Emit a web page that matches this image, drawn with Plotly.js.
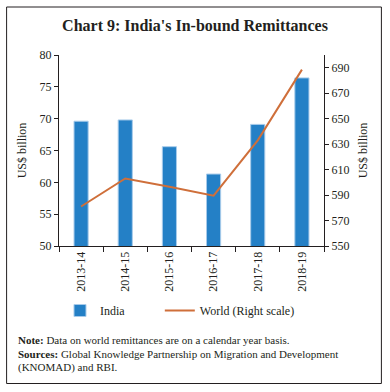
<!DOCTYPE html>
<html>
<head>
<meta charset="utf-8">
<script src="https://cdn.plot.ly/plotly-3.0.1.min.js"></script>
<style>html,body{margin:0;padding:0;background:#fff;}#chart{width:390px;height:392px;}</style>
</head>
<body>
<div id="chart"></div>
<script>
const categories = ['2013-14', '2014-15', '2015-16', '2016-17', '2017-18', '2018-19'];
const indiaValues = [69.6, 69.8, 65.6, 61.3, 69.1, 76.4];
const worldValues = [581, 603, 596.5, 589.5, 633, 688.5];
const leftTicks = [50, 55, 60, 65, 70, 75, 80];
const rightTicks = [550, 570, 590, 610, 630, 650, 670, 690];

const FONT = 'Liberation Serif, Times New Roman, serif';
const W = 390, H = 392;
const L = 59, R = 324.5, T = 55, B = 246;
const px = x => (x - L) / (R - L);
const py = y => (B - y) / (B - T);

const traces = [
  {
    type: 'bar', name: 'India', x: categories, y: indiaValues,
    width: 0.32, legend: 'legend',
    marker: {color: '#2480C6', line: {color: '#A8CBEA', width: 1}},
    hoverinfo: 'skip'
  },
  {
    type: 'scatter', mode: 'lines', name: 'World (Right scale)', x: categories, y: worldValues,
    yaxis: 'y2', legend: 'legend2', line: {color: '#CF6F3A', width: 2},
    hoverinfo: 'skip'
  }
];

const legendBase = {
  orientation: 'h', xanchor: 'left', yanchor: 'top',
  font: {family: FONT, size: 12}, bgcolor: 'rgba(0,0,0,0)'
};

const layout = {
  width: W, height: H,
  margin: {l: L, r: W - R, t: T, b: H - B, pad: 0},
  paper_bgcolor: '#fff', plot_bgcolor: '#fff',
  font: {family: FONT, size: 12, color: '#231f20'},
  showlegend: true,
  title: {
    text: "<b>Chart 9: India's In-bound Remittances</b>",
    font: {family: FONT, size: 16, color: '#231f20'},
    xref: 'container', x: 0.5, xanchor: 'center',
    yref: 'container', y: 1 - 25 / H, yanchor: 'middle'
  },
  xaxis: {
    type: 'category', tickangle: -90,
    showline: true, linecolor: '#231f20', linewidth: 1,
    ticks: 'outside', tickson: 'boundaries', ticklen: 5, tickcolor: '#231f20',
    showgrid: false, zeroline: false,
    tickfont: {family: FONT, size: 12}
  },
  yaxis: {
    range: [50, 80], tickvals: leftTicks,
    showline: true, linecolor: '#231f20', linewidth: 1,
    ticks: 'outside', ticklen: 4, tickcolor: '#231f20',
    showgrid: false, zeroline: false,
    tickfont: {family: FONT, size: 12},
    title: {text: 'US$ billion', font: {family: FONT, size: 12}, standoff: 10}
  },
  yaxis2: {
    range: [550, 700], tickvals: rightTicks,
    overlaying: 'y', side: 'right',
    showline: true, linecolor: '#231f20', linewidth: 1,
    ticks: 'outside', ticklen: 4, tickcolor: '#231f20',
    showgrid: false, zeroline: false,
    tickfont: {family: FONT, size: 12},
    title: {text: 'US$ billion', font: {family: FONT, size: 12}, standoff: 10}
  },
  legend: Object.assign({}, legendBase, {x: px(60), y: py(296)}),
  legend2: Object.assign({}, legendBase, {x: px(160), y: py(296)}),
  shapes: [
    {type: 'rect', xref: 'paper', yref: 'paper',
     x0: px(6.5), x1: px(382), y0: py(383.5), y1: py(7),
     line: {color: '#231f20', width: 1}, fillcolor: 'rgba(0,0,0,0)', layer: 'below'}
  ],
  annotations: [
    {xref: 'paper', yref: 'paper', x: px(16), y: py(340), xanchor: 'left', yanchor: 'middle',
     showarrow: false, align: 'left', font: {family: FONT, size: 11},
     text: '<b>Note:</b> Data on world remittances are on a calendar year basis.'},
    {xref: 'paper', yref: 'paper', x: px(16), y: py(354), xanchor: 'left', yanchor: 'middle',
     showarrow: false, align: 'left', font: {family: FONT, size: 11},
     text: '<b>Sources:</b> Global Knowledge Partnership on Migration and Development'},
    {xref: 'paper', yref: 'paper', x: px(16), y: py(367.5), xanchor: 'left', yanchor: 'middle',
     showarrow: false, align: 'left', font: {family: FONT, size: 11},
     text: '(KNOMAD) and RBI.'}
  ]
};

Plotly.newPlot('chart', traces, layout, {displayModeBar: false, staticPlot: true});
</script>
</body>
</html>
